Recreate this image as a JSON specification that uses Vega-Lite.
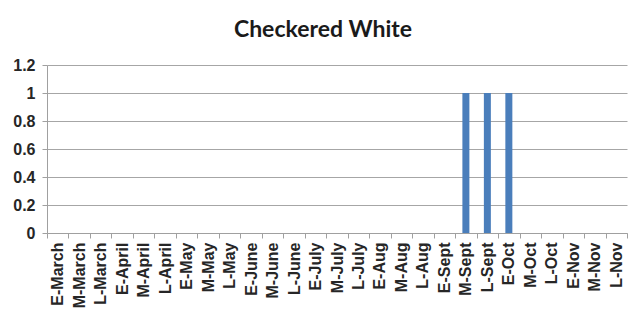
{
  "$schema": "https://vega.github.io/schema/vega-lite/v6.json",
  "width": 580,
  "height": 168,
  "autosize": {"type": "none"},
  "padding": {"left": 47, "top": 65, "right": 2, "bottom": 85},
  "background": "white",
  "config": {"view": {"stroke": null}},
  "title": {
    "text": "Checkered White",
    "font": "Lato",
    "fontSize": 23,
    "fontWeight": "bold",
    "color": "#1a1a1a",
    "anchor": "middle",
    "dx": -14,
    "offset": 15
  },
  "data": {
    "values": [
      {"period": "E-March", "count": 0},
      {"period": "M-March", "count": 0},
      {"period": "L-March", "count": 0},
      {"period": "E-April", "count": 0},
      {"period": "M-April", "count": 0},
      {"period": "L-April", "count": 0},
      {"period": "E-May", "count": 0},
      {"period": "M-May", "count": 0},
      {"period": "L-May", "count": 0},
      {"period": "E-June", "count": 0},
      {"period": "M-June", "count": 0},
      {"period": "L-June", "count": 0},
      {"period": "E-July", "count": 0},
      {"period": "M-July", "count": 0},
      {"period": "L-July", "count": 0},
      {"period": "E-Aug", "count": 0},
      {"period": "M-Aug", "count": 0},
      {"period": "L-Aug", "count": 0},
      {"period": "E-Sept", "count": 0},
      {"period": "M-Sept", "count": 1},
      {"period": "L-Sept", "count": 1},
      {"period": "E-Oct", "count": 1},
      {"period": "M-Oct", "count": 0},
      {"period": "L-Oct", "count": 0},
      {"period": "E-Nov", "count": 0},
      {"period": "M-Nov", "count": 0},
      {"period": "L-Nov", "count": 0}
    ]
  },
  "mark": {"type": "bar", "size": 7, "color": "#4a7ebb"},
  "encoding": {
    "x": {
      "field": "period",
      "type": "nominal",
      "sort": null,
      "scale": {"paddingInner": 0, "paddingOuter": 0},
      "axis": {
        "title": null,
        "labelAngle": -90,
        "labelFont": "Liberation Sans",
        "labelFontSize": 16,
        "labelFontWeight": "bold",
        "labelColor": "#262626",
        "labelPadding": 4,
        "tickBand": "extent",
        "tickSize": 5,
        "tickColor": "#a0a0a0",
        "domainColor": "#a0a0a0",
        "grid": false
      }
    },
    "y": {
      "field": "count",
      "type": "quantitative",
      "scale": {"domain": [0, 1.2], "nice": false},
      "axis": {
        "title": null,
        "values": [0, 0.2, 0.4, 0.6, 0.8, 1, 1.2],
        "format": "~g",
        "labelFont": "Liberation Sans",
        "labelFontSize": 16,
        "labelFontWeight": "bold",
        "labelColor": "#262626",
        "labelPadding": 7,
        "tickSize": 5,
        "tickColor": "#a0a0a0",
        "domainColor": "#a0a0a0",
        "grid": true,
        "gridColor": "#a6a6a6",
        "gridWidth": 1
      }
    }
  }
}
